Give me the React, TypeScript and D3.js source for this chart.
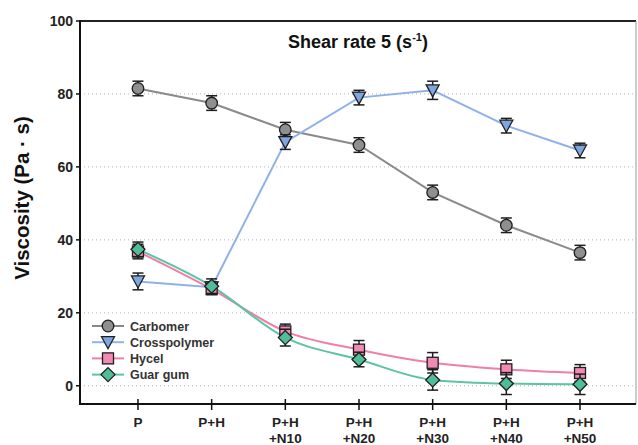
import React from "react";
import * as d3 from "d3";

const categories = [["P"], ["P+H"], ["P+H", "+N10"], ["P+H", "+N20"], ["P+H", "+N30"], ["P+H", "+N40"], ["P+H", "+N50"]];
const carbomer = [81.5, 77.5, 70.2, 66, 53, 44, 36.5];
const carbomerErr = [2, 2, 2, 2, 2, 2, 2];
const crosspolymer = [28.6, 27, 66.8, 79, 81, 71.3, 64.5];
const crosspolymerErr = [2.3, 1.5, 2, 2, 2.5, 2, 2];
const hycel = [36.8, 26.5, 14.9, 9.9, 6.3, 4.5, 3.5];
const hycelErr = [2, 1.5, 2, 2.5, 2.8, 2.5, 2.3];
const guar = [37.4, 27.3, 13.2, 7.2, 1.6, 0.6, 0.4];
const guarErr = [2, 2, 2.3, 2, 2.8, 3, 2.8];
const yTicks = [0, 20, 40, 60, 80, 100];
const gridTicks = [0, 20, 40, 60, 80];

const FONT = "'Liberation Sans', Arial, sans-serif";

type Series = { name: string; values: number[]; err: number[]; line: string; fill: string; marker: string; curve: any };

const series: Series[] = [
  { name: "Carbomer", values: carbomer, err: carbomerErr, line: "#8a8a8a", fill: "#8f8f8f", marker: "circle", curve: d3.curveLinear },
  { name: "Crosspolymer", values: crosspolymer, err: crosspolymerErr, line: "#8fb1ea", fill: "#7ea7e2", marker: "tri", curve: d3.curveLinear },
  { name: "Hycel", values: hycel, err: hycelErr, line: "#ef7fa9", fill: "#f28ab3", marker: "square", curve: d3.curveMonotoneX },
  { name: "Guar gum", values: guar, err: guarErr, line: "#5cc4a0", fill: "#4fbd98", marker: "diamond", curve: d3.curveMonotoneX },
];

function Marker({ type, x, y, fill }: { type: string; x: number; y: number; fill: string }) {
  const st = { fill, stroke: "#1e1e1e", strokeWidth: 1.3 };
  if (type === "circle") return <circle cx={x} cy={y} r={5.8} {...st} />;
  if (type === "square") return <rect x={x - 5.5} y={y - 5.5} width={11} height={11} {...st} />;
  if (type === "diamond") return <path d={`M${x},${y - 7}L${x + 7},${y}L${x},${y + 7}L${x - 7},${y}Z`} {...st} />;
  return <path d={`M${x - 6.5},${y - 5.5}L${x + 6.5},${y - 5.5}L${x},${y + 6.5}Z`} {...st} />;
}

export default function App() {
  const W = 638, H = 445;
  const left = 80, right = 636, top = 21, bottom = 404;
  const x = d3.scaleLinear().domain([-0.787, 6.76]).range([left, right]);
  const y = d3.scaleLinear().domain([-5, 100]).range([bottom, top]);

  return (
    <svg width={W} height={H} style={{ position: "absolute", left: 0, top: 0, background: "#fff" }} fontFamily={FONT}>
      {gridTicks.map((t) => (
        <line key={t} x1={left} x2={right} y1={y(t)} y2={y(t)} stroke="#b5b5b5" strokeWidth={1} strokeDasharray="1,3" />
      ))}
      {/* frame */}
      <line x1={left} x2={right} y1={top} y2={top} stroke="#222" strokeWidth={2} />
      <line x1={right} x2={right} y1={top} y2={bottom} stroke="#999" strokeWidth={1} />
      <line x1={left} x2={left} y1={top - 1} y2={bottom + 1} stroke="#111" strokeWidth={2} />
      <line x1={left - 1} x2={right} y1={bottom} y2={bottom} stroke="#111" strokeWidth={2} />
      {yTicks.map((t) => (
        <g key={t}>
          <line x1={left - 4} x2={left} y1={y(t)} y2={y(t)} stroke="#111" strokeWidth={1.5} />
          <text x={left - 7} y={y(t) + 5} textAnchor="end" fontSize={14} fontWeight="bold" fill="#222">{t}</text>
        </g>
      ))}
      {categories.map((c, i) => (
        <g key={i}>
          <line x1={x(i)} x2={x(i)} y1={bottom - 5} y2={bottom + 6} stroke="#111" strokeWidth={1.5} />
          {c.map((s, j) => (
            <text key={j} x={x(i)} y={427 + j * 16} textAnchor="middle" fontSize={13.5} fontWeight="bold" fill="#222">{s}</text>
          ))}
        </g>
      ))}
      {series.map((s) => {
        const gen = d3.line<number>().x((_, i) => x(i)).y((v) => y(v)).curve(s.curve);
        return <path key={s.name} d={gen(s.values) || ""} fill="none" stroke={s.line} strokeWidth={2} />;
      })}
      {series.map((s) => (
        <g key={s.name + "e"}>
          {s.values.map((v, i) => (
            <g key={i} stroke="#1e1e1e" strokeWidth={1.5}>
              <line x1={x(i)} x2={x(i)} y1={y(v - s.err[i])} y2={y(v + s.err[i])} />
              <line x1={x(i) - 5.5} x2={x(i) + 5.5} y1={y(v - s.err[i])} y2={y(v - s.err[i])} />
              <line x1={x(i) - 5.5} x2={x(i) + 5.5} y1={y(v + s.err[i])} y2={y(v + s.err[i])} />
            </g>
          ))}
          {s.values.map((v, i) => (
            <Marker key={"m" + i} type={s.marker} x={x(i)} y={y(v)} fill={s.fill} />
          ))}
        </g>
      ))}
      {/* legend */}
      {series.map((s, i) => {
        const ly = 326 + i * 16.2;
        return (
          <g key={s.name + "l"}>
            <line x1={92} x2={124} y1={ly} y2={ly} stroke={s.line} strokeWidth={2} />
            <Marker type={s.marker} x={108} y={ly} fill={s.fill} />
            <text x={130} y={ly + 4.5} fontSize={12.5} fontWeight="bold" fill="#333">{s.name}</text>
          </g>
        );
      })}
      <text x={358} y={48} textAnchor="middle" fontSize={18} fontWeight="bold" fill="#111">
        Shear rate 5 (s<tspan dy={-7} fontSize={11}>-1</tspan><tspan dy={7}>)</tspan>
      </text>
      <text transform={`translate(29,198) rotate(-90)`} textAnchor="middle" fontSize={20.5} fontWeight="bold" fill="#111">Viscosity (Pa · s)</text>
    </svg>
  );
}
